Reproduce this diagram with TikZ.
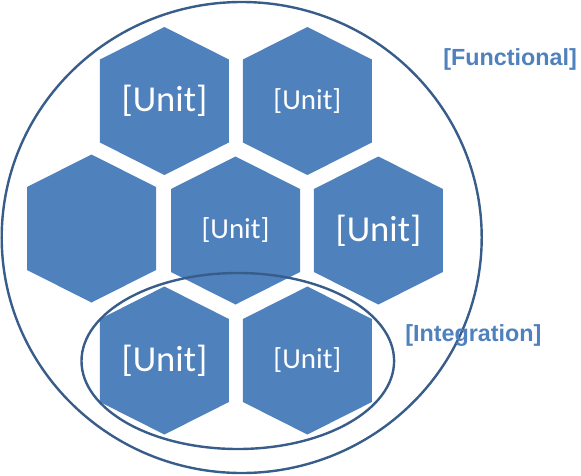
\documentclass[tikz,border=0pt]{standalone}
\usepackage{fontspec}
\usetikzlibrary{positioning}
\newfontfamily\unitfont{Carlito}
\newfontfamily\tagfont{Liberation Sans}
\definecolor{hexblue}{HTML}{4F81BD}
\definecolor{ringblue}{HTML}{385D8A}
% hexagonal unit: name, centre, size style, text
\newcommand{\hexcell}[4]{%
    \fill[hexcellfill, shift={(#2)}] (0,-74) -- (64.5,-41.5) -- (64.5,41.5)
        -- (0,74) -- (-64.5,41.5) -- (-64.5,-41.5) -- cycle;
    \node[#3] (#1) at (#2) {#4};
}

\begin{document}
\begin{tikzpicture}[
    x=0.75pt, y=-0.75pt,
    % Styles
    hexcellfill/.style={% For the blue hexagons
        fill=hexblue,
        },
    bigunit/.style={% Large white text
        text=white,
        font=\unitfont\fontsize{27.4}{30}\selectfont,
        inner sep=0pt,
        },
    smallunit/.style={% Small white text
        text=white,
        font=\unitfont\fontsize{21.7}{24}\selectfont,
        inner sep=0pt,
        },
    ring/.style={% For the circle and the ellipse
        draw=ringblue,
        line width=1.8pt,
        },
    tag/.style={% Outside labels
        text=hexblue,
        font=\tagfont\bfseries\fontsize{17.5}{20}\selectfont,
        inner sep=0pt,
        anchor=base west,
        },
    ]
    \useasboundingbox (0,0) rectangle (581,475);

    % Outer ring
    \draw[ring] (241.7,237.5) ellipse [x radius=240, y radius=235.5];

    % Hexagons named hex#
    \hexcell{hex1}{164.4,101}{bigunit}{[Unit]}
    \hexcell{hex2}{307.4,101}{smallunit}{[Unit]}
    \hexcell{hex3}{91.5,228.5}{smallunit}{}
    \hexcell{hex4}{235.5,230.5}{smallunit}{[Unit]}
    \hexcell{hex5}{378.4,230.5}{bigunit}{[Unit]}
    \hexcell{hex6}{164.4,360.5}{bigunit}{[Unit]}
    \hexcell{hex7}{307.4,360.5}{smallunit}{[Unit]}

    % Inner ring
    \draw[ring] (237.8,361) ellipse [x radius=156.3, y radius=88];

    % Labels
    \node[tag] (functional) at (443,65) {[Functional]};
    \node[tag] (integration) at (405,341.7) {[Integration]};

\end{tikzpicture}
\end{document}
